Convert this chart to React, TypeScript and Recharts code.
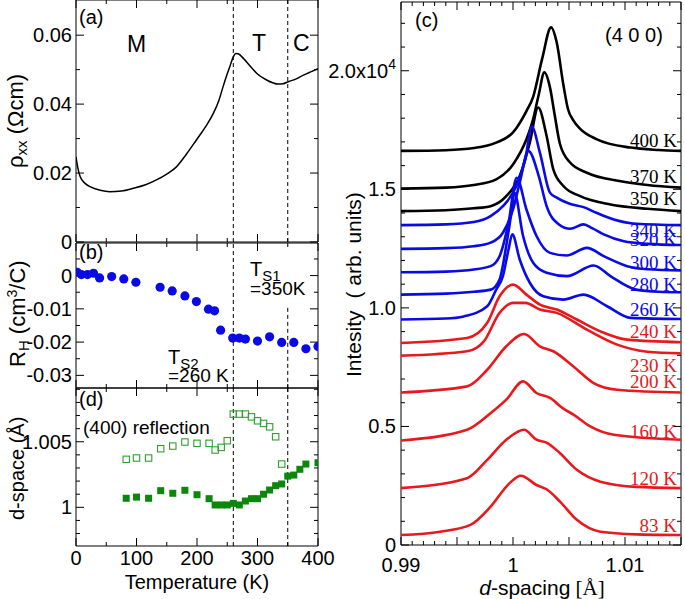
import React from "react";
import {
  Line,
  LineChart,
  ReferenceDot,
  ReferenceLine,
  Scatter,
  ScatterChart,
  XAxis,
  YAxis,
} from "recharts";

const SANS = '"Liberation Sans", Arial, sans-serif';
const SERIF = '"Liberation Serif", "Times New Roman", serif';
const BLACK = "#000";
const BLUE = "#0a0ae6";
const RED = "#e8181c";
const GREEN = "#0b870b";
const GREEN_OPEN = "#2f9f2f";

// (a) resistivity vs temperature
const rhoT = [0, 3, 7, 15, 25, 40, 56, 75, 95, 115, 133, 150, 166, 183, 199, 214, 227, 236, 243, 250, 255, 260, 264, 268, 277, 288, 299, 315, 325, 334, 342, 351, 365, 376, 390, 400];
const rhoV = [0.0247, 0.0215, 0.0189, 0.017, 0.0159, 0.015, 0.0146, 0.0148, 0.0156, 0.0166, 0.018, 0.0197, 0.0218, 0.0256, 0.0296, 0.0334, 0.0373, 0.041, 0.045, 0.0488, 0.0513, 0.0537, 0.0547, 0.0546, 0.0532, 0.051, 0.0489, 0.047, 0.0462, 0.0458, 0.0459, 0.0465, 0.0474, 0.0484, 0.0495, 0.0503];

// (b) Hall coefficient
const hallT = [2, 9, 19, 29, 39, 59, 79, 99, 139, 159, 180, 199, 219, 229, 239, 259, 270, 280, 300, 320, 340, 360, 380, 400];
const hallV = [0.001, 0.0003, 0.0003, 0.0007, -0.0007, -0.0003, -0.001, -0.002, -0.0035, -0.0046, -0.0061, -0.0078, -0.0101, -0.0106, -0.0164, -0.0188, -0.0188, -0.0191, -0.0197, -0.0184, -0.0201, -0.0201, -0.022, -0.0213];

// (d) d-space, open = second peak, filled = main peak
const openT = [83, 100, 120, 140, 160, 180, 200, 220, 230, 240, 250, 260, 270, 280, 290, 300, 310, 320, 330, 340];
const openV = [1.00366, 1.00376, 1.00376, 1.00447, 1.00467, 1.00498, 1.00488, 1.00488, 1.00437, 1.00457, 1.00508, 1.00711, 1.00711, 1.00711, 1.0069, 1.0066, 1.0064, 1.00614, 1.00538, 1.0033];
const fullT = [83, 100, 120, 140, 160, 180, 200, 220, 230, 240, 250, 260, 270, 280, 290, 300, 310, 320, 330, 340, 350, 360, 370, 380, 400];
const fullV = [1.00069, 1.00078, 1.00069, 1.00127, 1.00107, 1.0013, 1.00096, 1.00066, 1.00018, 1.00018, 1.00018, 1.0003, 1.00018, 1.00048, 1.00066, 1.00066, 1.001, 1.00132, 1.00165, 1.00178, 1.00238, 1.00246, 1.0029, 1.0033, 1.0034];

// (c) (4 0 0) profiles, [d-spacing, intensity x1e4]
const scan400 = [[0.99, 1.662], [0.994, 1.665], [0.9965, 1.674], [0.9985, 1.697], [1.0, 1.74], [1.0012, 1.83], [1.0018, 1.89], [1.0026, 2.05], [1.0034, 2.183], [1.0039, 2.12], [1.0045, 1.94], [1.0049, 1.84], [1.0054, 1.79], [1.006, 1.755], [1.0075, 1.711], [1.0105, 1.676], [1.013, 1.666], [1.015, 1.662]];
const scan370 = [[0.99, 1.503], [0.994, 1.507], [0.9965, 1.518], [0.9985, 1.542], [1.0, 1.605], [1.0012, 1.711], [1.0018, 1.796], [1.0023, 1.9], [1.0028, 1.993], [1.0033, 1.93], [1.0037, 1.82], [1.0042, 1.69], [1.0051, 1.613], [1.0066, 1.57], [1.0095, 1.535], [1.012, 1.518], [1.015, 1.507]];
const scan350 = [[0.99, 1.408], [0.994, 1.412], [0.9965, 1.42], [0.998, 1.429], [0.9994, 1.471], [1.0006, 1.556], [1.0015, 1.697], [1.00225, 1.845], [1.003, 1.725], [1.0036, 1.584], [1.0045, 1.514], [1.006, 1.471], [1.0087, 1.436], [1.012, 1.418], [1.015, 1.408]];
const scan340 = [[0.99, 1.349], [0.994, 1.352], [0.9965, 1.362], [0.998, 1.387], [0.9991, 1.429], [1.0003, 1.514], [1.0011, 1.627], [1.00167, 1.765], [1.0024, 1.655], [1.0033, 1.486], [1.0039, 1.465], [1.005, 1.44], [1.0063, 1.425], [1.0075, 1.4], [1.009, 1.373], [1.011, 1.355], [1.015, 1.349]];
const scan320 = [[0.99, 1.249], [0.994, 1.252], [0.9965, 1.26], [0.998, 1.275], [0.9991, 1.317], [1.0, 1.415], [1.0006, 1.528], [1.00137, 1.662], [1.0023, 1.556], [1.003, 1.429], [1.0041, 1.352], [1.0051, 1.334], [1.0063, 1.352], [1.0071, 1.335], [1.0081, 1.31], [1.0099, 1.281], [1.012, 1.27], [1.015, 1.265]];
const scan300 = [[0.99, 1.15], [0.994, 1.153], [0.9965, 1.162], [0.998, 1.176], [0.9988, 1.218], [0.9996, 1.359], [1.00033, 1.549], [1.0012, 1.415], [1.0021, 1.303], [1.0033, 1.232], [1.0048, 1.221], [1.0066, 1.253], [1.0081, 1.218], [1.0102, 1.176], [1.012, 1.163], [1.015, 1.158]];
const scan280 = [[0.99, 1.056], [0.994, 1.06], [0.9965, 1.068], [0.998, 1.077], [0.9988, 1.12], [0.99944, 1.275], [0.9999, 1.415], [1.00012, 1.486], [1.0009, 1.303], [1.0018, 1.19], [1.003, 1.148], [1.0048, 1.134], [1.0072, 1.179], [1.0087, 1.134], [1.011, 1.077], [1.013, 1.068], [1.015, 1.066]];
const scan260 = [[0.99, 0.951], [0.994, 0.955], [0.9956, 0.964], [0.9977, 1.007], [0.9985, 1.077], [0.9991, 1.134], [0.9996, 1.246], [0.99994, 1.31], [1.0006, 1.204], [1.0015, 1.106], [1.0027, 1.049], [1.0045, 1.035], [1.0063, 1.056], [1.0084, 1.007], [1.0105, 0.958], [1.015, 0.953]];
const scan240 = [[0.99, 0.852], [0.9959, 0.873], [0.9977, 0.937], [0.9988, 1.049], [1.0, 1.098], [1.0012, 1.056], [1.0024, 1.014], [1.0039, 0.993], [1.0057, 0.951], [1.0078, 0.901], [1.0102, 0.866], [1.015, 0.855]];
const scan230 = [[0.99, 0.798], [0.9959, 0.817], [0.9974, 0.859], [0.9988, 0.979], [1.0, 1.021], [1.0011, 1.021], [1.0024, 0.993], [1.0039, 0.979], [1.0066, 0.908], [1.0093, 0.845], [1.012, 0.815], [1.015, 0.808]];
const scan200 = [[0.99, 0.643], [0.9959, 0.669], [0.9977, 0.739], [0.9994, 0.838], [1.001, 0.89], [1.0024, 0.838], [1.0036, 0.817], [1.0054, 0.753], [1.0072, 0.683], [1.0093, 0.655], [1.015, 0.643]];
const scan160 = [[0.99, 0.441], [0.9959, 0.486], [0.998, 0.556], [0.9994, 0.613], [1.0009, 0.69], [1.0021, 0.641], [1.0033, 0.62], [1.0045, 0.575], [1.0054, 0.55], [1.0069, 0.5], [1.009, 0.465], [1.015, 0.444]];
const scan120 = [[0.99, 0.24], [0.9959, 0.282], [0.9977, 0.359], [0.9994, 0.444], [1.001, 0.486], [1.0021, 0.444], [1.003, 0.432], [1.0042, 0.387], [1.0057, 0.317], [1.0078, 0.267], [1.011, 0.245], [1.015, 0.24]];
const scan83 = [[0.99, 0.042], [0.9935, 0.056], [0.9962, 0.085], [0.998, 0.162], [0.9997, 0.261], [1.0007, 0.292], [1.0021, 0.253], [1.003, 0.235], [1.0042, 0.183], [1.0057, 0.106], [1.0078, 0.056], [1.011, 0.045], [1.015, 0.042]];

const scanLabels = ["400 K", "370 K", "350 K", "340 K", "320 K", "300 K", "280 K", "260 K", "240 K", "230 K", "200 K", "160 K", "120 K", "83 K"];
const scanData = [scan400, scan370, scan350, scan340, scan320, scan300, scan280, scan260, scan240, scan230, scan200, scan160, scan120, scan83];
const scanColors = [BLACK, BLACK, BLACK, BLUE, BLUE, BLUE, BLUE, BLUE, RED, RED, RED, RED, RED, RED];
// label baseline offset from the curve's right end, px
const labelDy = [-4, -4.5, -6, 12, 1, -1, -1, -3.5, -4, 18.5, -4.5, -2, -3, -3];

const TEMP_TICKS = [0, 50, 100, 150, 200, 250, 300, 350, 400];
const RHO_TICKS = [0, 0.01, 0.02, 0.03, 0.04, 0.05, 0.06];
const HALL_TICKS = [-0.03, -0.025, -0.02, -0.015, -0.01, -0.005, 0, 0.005];

const steps = (a: number, b: number, s: number) => {
  const out: number[] = [];
  for (let i = 0; a + i * s <= b + 1e-9; i++) out.push(Number((a + i * s).toFixed(4)));
  return out;
};
const DSP_TICKS = steps(0.998, 1.009, 0.001);
const DSPACING_TICKS = steps(0.99, 1.015, 0.001);
const INT_TICKS = steps(0, 2.2, 0.1);

const near = (v: number, s: number) => Math.abs(v / s - Math.round(v / s)) < 1e-6;

// tick labels only; the marks themselves are drawn by tickMarks()
function labels(side: "left" | "bottom", step: number, fmt: (v: number) => React.ReactNode, off = 4) {
  return (p: any) => {
    const v = p.payload.value;
    if (!near(v, step)) return <g />;
    const { x, y } = p;
    if (side === "bottom")
      return (
        <text x={x} y={y + off} textAnchor="middle" fontSize={20} fontFamily={SANS} fill="#000">
          {fmt(v)}
        </text>
      );
    return (
      <text x={x - off} y={y} dy="0.35em" textAnchor="end" fontSize={20} fontFamily={SANS} fill="#000">
        {fmt(v)}
      </text>
    );
  };
}

// inward ticks on all four sides + the box, via reference lines
function tickMarks(xt: number[], xMajor: number, xd: number[], yt: number[], yMajor: number, yd: number[]) {
  const st = { stroke: "#000", strokeWidth: 1, fill: "none" };
  const out: React.ReactNode[] = [];
  xt.forEach((v) =>
    out.push(
      <ReferenceLine
        key={"tx" + v}
        x={v}
        ifOverflow="visible"
        shape={(p: any) => {
          const len = near(v, xMajor) ? 8 : 4;
          const top = Math.min(p.y1, p.y2);
          const bot = Math.max(p.y1, p.y2);
          return <path d={`M${p.x1},${top}v${len}M${p.x1},${bot}v${-len}`} {...st} />;
        }}
      />,
    ),
  );
  yt.forEach((v) =>
    out.push(
      <ReferenceLine
        key={"ty" + v}
        y={v}
        ifOverflow="visible"
        shape={(p: any) => {
          const len = near(v, yMajor) ? 8 : 4;
          const l = Math.min(p.x1, p.x2);
          const r = Math.max(p.x1, p.x2);
          return <path d={`M${l},${p.y1}h${len}M${r},${p.y1}h${-len}`} {...st} />;
        }}
      />,
    ),
  );
  out.push(<ReferenceLine key="fx0" x={xd[0]} ifOverflow="visible" stroke="#000" strokeWidth={1} />);
  out.push(<ReferenceLine key="fx1" x={xd[1]} ifOverflow="visible" stroke="#000" strokeWidth={1} />);
  out.push(<ReferenceLine key="fy0" y={yd[0]} ifOverflow="visible" stroke="#000" strokeWidth={1} />);
  out.push(<ReferenceLine key="fy1" y={yd[1]} ifOverflow="visible" stroke="#000" strokeWidth={1} />);
  return out;
}

const dashed = { stroke: "#000", strokeWidth: 1, strokeDasharray: "4 3" };

const blueDot = (p: any) => <circle cx={p.cx} cy={p.cy} r={4.6} fill={BLUE} />;
const openSquare = (p: any) => (
  <rect x={p.cx - 3.2} y={p.cy - 3.2} width={6.4} height={6.4} fill="none" stroke={GREEN_OPEN} strokeWidth={1.1} />
);
const fullSquare = (p: any) => <rect x={p.cx - 3.5} y={p.cy - 3.5} width={7} height={7} fill={GREEN} />;

const T_DOMAIN = [0, 400];
const RHO_DOMAIN = [0, 0.0702];
const HALL_DOMAIN = [-0.0338, 0.0098];
const DSP_DOMAIN = [0.99705, 1.0091];
const D_DOMAIN = [0.99, 1.015];
const I_DOMAIN = [0, 2.29];

export default function App() {
  const rhoData = rhoT.map((T, i) => ({ T, rho: rhoV[i] }));
  const hallData = hallT.map((T, i) => ({ T, v: hallV[i] }));
  const openData = openT.map((T, i) => ({ T, v: openV[i] }));
  const fullData = fullT.map((T, i) => ({ T, v: fullV[i] }));
  const scans = scanData.map((pts) => pts.map(([d, v]) => ({ d, v })));

  const twoDec = (v: number) => (v === 0 ? "0" : v.toFixed(2));

  const tAxis = (h: number, withLabels: boolean) => (
    <XAxis
      type="number"
      dataKey="T"
      domain={T_DOMAIN}
      allowDataOverflow
      ticks={TEMP_TICKS}
      interval={0}
      height={h}
      tickSize={0}
      tickMargin={0}
      axisLine={false}
      tickLine={false}
      tick={withLabels ? labels("bottom", 100, (v) => String(v), 19) : false}
    />
  );
  const leftAxis = (domain: number[], ticks: number[], step: number, fmt: (v: number) => React.ReactNode, dk?: string) => (
    <YAxis
      type="number"
      dataKey={dk}
      domain={domain}
      allowDataOverflow
      ticks={ticks}
      interval={0}
      width={76}
      tickSize={0}
      tickMargin={0}
      axisLine={false}
      tickLine={false}
      tick={labels("left", step, fmt)}
    />
  );

  return (
    <div style={{ position: "absolute", left: 0, top: 0, width: 685, height: 599, background: "#fff", fontFamily: SANS }}>
      {/* (a) */}
      <div style={{ position: "absolute", left: 0, top: 0 }}>
        <LineChart width={330} height={254} data={rhoData} margin={{ top: 0, right: 12, bottom: 12, left: 0 }}>
          {tAxis(0, false)}
          {leftAxis(RHO_DOMAIN, RHO_TICKS, 0.02, twoDec)}
          {tickMarks(TEMP_TICKS, 100, T_DOMAIN, RHO_TICKS, 0.02, RHO_DOMAIN)}
          <ReferenceLine x={260} {...dashed} />
          <ReferenceLine x={350} {...dashed} />
          <Line dataKey="rho" type="monotone" stroke="#000" strokeWidth={1.5} dot={false} isAnimationActive={false} />
        </LineChart>
      </div>

      {/* (b) */}
      <div style={{ position: "absolute", left: 0, top: 233 }}>
        <ScatterChart width={330} height={165} margin={{ top: 10, right: 12, bottom: 10, left: 0 }}>
          {tAxis(0, false)}
          {leftAxis(HALL_DOMAIN, HALL_TICKS, 0.01, twoDec, "v")}
          {tickMarks(TEMP_TICKS, 100, T_DOMAIN, HALL_TICKS, 0.01, HALL_DOMAIN)}
          <ReferenceLine x={260} {...dashed} />
          <ReferenceLine segment={[{ x: 350, y: -0.0097 }, { x: 350, y: -0.0337 }]} ifOverflow="visible" {...dashed} />
          <Scatter data={hallData} shape={blueDot} isAnimationActive={false} />
        </ScatterChart>
      </div>

      {/* (d) */}
      <div style={{ position: "absolute", left: 0, top: 378 }}>
        <ScatterChart width={345} height={221} margin={{ top: 10, right: 27, bottom: 0, left: 0 }}>
          {tAxis(53, true)}
          {leftAxis(DSP_DOMAIN, DSP_TICKS, 0.005, (v) => (near(v - 1, 1) ? "1" : v.toFixed(3)), "v")}
          {tickMarks(TEMP_TICKS, 100, T_DOMAIN, DSP_TICKS, 0.005, DSP_DOMAIN)}
          <ReferenceLine x={260} {...dashed} />
          <ReferenceLine x={350} {...dashed} />
          <Scatter data={openData} shape={openSquare} isAnimationActive={false} />
          <Scatter data={fullData} shape={fullSquare} isAnimationActive={false} />
        </ScatterChart>
      </div>

      {/* (c) */}
      <div style={{ position: "absolute", left: 318, top: 0 }}>
        <LineChart width={367} height={599} margin={{ top: 2, right: 4, bottom: 0, left: 0 }}>
          <XAxis
            type="number"
            dataKey="d"
            domain={D_DOMAIN}
            allowDataOverflow
            ticks={DSPACING_TICKS}
            interval={0}
            height={54}
            tickSize={0}
            tickMargin={0}
            axisLine={false}
            tickLine={false}
            tick={labels("bottom", 0.01, (v) => (Math.abs(v - 1) < 1e-9 ? "1" : v.toFixed(2)), 27)}
          />
          <YAxis
            type="number"
            domain={I_DOMAIN}
            allowDataOverflow
            ticks={INT_TICKS}
            interval={0}
            width={83}
            tickSize={0}
            tickMargin={0}
            axisLine={false}
            tickLine={false}
            tick={labels(
              "left",
              0.5,
              (v) =>
                v === 0 ? (
                  "0"
                ) : Math.abs(v - 2) < 1e-9 ? (
                  <>
                    <tspan>2.0x10</tspan>
                    <tspan dy={-9} fontSize={14}>4</tspan>
                  </>
                ) : (
                  v.toFixed(1)
                ),
              5,
            )}
          />
          {tickMarks(DSPACING_TICKS, 0.005, D_DOMAIN, INT_TICKS, 0.5, I_DOMAIN)}
          {scans.map((data, i) => (
            <Line
              key={scanLabels[i]}
              data={data}
              dataKey="v"
              type="monotone"
              stroke={scanColors[i]}
              strokeWidth={2.6}
              dot={false}
              isAnimationActive={false}
            />
          ))}
          {scans.map((data, i) => (
            <ReferenceDot
              key={"l" + scanLabels[i]}
              x={data[data.length - 1].d}
              y={data[data.length - 1].v}
              r={0}
              ifOverflow="visible"
              shape={(p: any) => (
                <text
                  x={p.cx - 4}
                  y={p.cy + labelDy[i]}
                  textAnchor="end"
                  fontSize={19}
                  fontFamily={SERIF}
                  fill={scanColors[i]}
                >
                  {scanLabels[i]}
                </text>
              )}
            />
          ))}
        </LineChart>
      </div>

      {/* free text */}
      <svg
        width={685}
        height={599}
        style={{ position: "absolute", left: 0, top: 0, pointerEvents: "none" }}
        fontFamily={SANS}
        fill="#000"
      >
        <text x={79} y={24} fontSize={20}>(a)</text>
        <text x={127} y={52} fontSize={23}>M</text>
        <text x={252} y={51} fontSize={23}>T</text>
        <text x={293} y={51} fontSize={23}>C</text>
        <text x={79} y={259} fontSize={20}>(b)</text>
        <text x={250} y={276} fontSize={20}>
          T<tspan fontSize={15} dy={5}>S1</tspan>
        </text>
        <text x={250} y={295} fontSize={19}>=350K</text>
        <text x={168} y={364} fontSize={20}>
          T<tspan fontSize={15} dy={5}>S2</tspan>
        </text>
        <text x={168} y={382} fontSize={19}>=260 K</text>
        <text x={79} y={406} fontSize={20}>(d)</text>
        <text x={83} y={434} fontSize={19}>(400) reflection</text>
        <text x={415} y={27} fontSize={20}>(c)</text>
        <text x={605} y={42} fontSize={20}>(4 0 0)</text>

        <text transform="translate(23,168) rotate(-90)" fontSize={22}>
          ρ<tspan fontSize={15} dy={4}>xx</tspan>
          <tspan dy={-4}> (Ωcm)</tspan>
        </text>
        <text transform="translate(25,367) rotate(-90)" fontSize={22}>
          R<tspan fontSize={15} dy={4}>H</tspan>
          <tspan dy={-4}> (cm</tspan>
          <tspan fontSize={14} dy={-8}>3</tspan>
          <tspan dy={8}>/C)</tspan>
        </text>
        <text transform="translate(24,520) rotate(-90)" fontSize={20}>
          d-space (Å)
        </text>
        <text transform="translate(361,377) rotate(-90)" fontSize={21}>
          Intesity<tspan dx={12}>( arb. units)</tspan>
        </text>
        <text x={197} y={589} textAnchor="middle" fontSize={20}>
          Temperature (K)
        </text>
        <text x={542} y={595} textAnchor="middle" fontSize={21}>
          <tspan fontStyle="italic">d</tspan>-spacing<tspan fontFamily={SERIF}> [Å]</tspan>
        </text>
      </svg>
    </div>
  );
}
